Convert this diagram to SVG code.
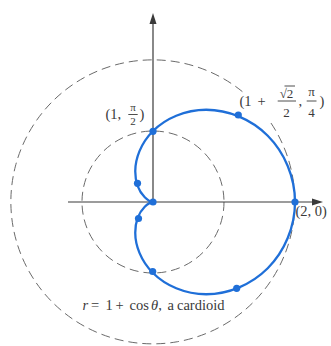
<svg xmlns="http://www.w3.org/2000/svg" width="331" height="346" viewBox="0 0 331 346">
<style>
.dash{fill:none;stroke:#6a6a6a;stroke-width:1;stroke-dasharray:9 5}
.axis{stroke:#3a3a3a;stroke-width:1.2;fill:none}
.head{fill:#3a3a3a}
.curve{fill:none;stroke:#1f6fd8;stroke-width:2.3;stroke-linejoin:round}
.dot{fill:#1f6fd8}
.t{font-family:"Liberation Serif","Times New Roman",serif;fill:#3a3a3a;font-size:14.5px}
.s{font-family:"Liberation Serif","Times New Roman",serif;fill:#3a3a3a;font-size:13px}
.s2{font-family:"Liberation Serif","Times New Roman",serif;fill:#3a3a3a;font-size:11px}
.bar{stroke:#3a3a3a;stroke-width:0.9}
</style>
<rect width="331" height="346" fill="#ffffff"/>
<g id="circles">
<path class="dash" d="M 242.4 91.65 A 142 142 0 1 0 270.0 121.6"/>
<circle class="dash" cx="153" cy="202" r="71"/>
</g>
<g id="axes">
<line class="axis" x1="68" y1="202" x2="314" y2="202"/>
<polygon class="head" points="323,202 312,198.5 312,205.5"/>
<line class="axis" x1="153" y1="202" x2="153" y2="22"/>
<polygon class="head" points="153,13 149.5,24 156.5,24"/>
</g>
<g id="cardioid">
<path class="curve" d="M 295 202 C 295 177.22 284.67 152.69 267.74 135.76 C 250.81 118.83 227.71 109.77 206.25 109.77 C 184.79 109.77 165.39 118.61 153 131 C 140.61 143.39 135.25 158.87 135.25 171.26 C 135.25 183.650 140.22 192.7 144.76 197.24 C 149.3 201.78 153 202 153 202 C 153 202 149.3 202.22 144.76 206.76 C 140.22 211.3 135.25 220.35 135.25 232.74 C 135.25 245.13 140.61 260.61 153 273 C 165.39 285.39 184.79 294.23 206.25 294.23 C 227.71 294.23 250.81 285.17 267.74 268.24 C 284.67 251.31 295 226.78 295 202 Z"/>
</g>
<g id="points">
<circle class="dot" cx="295" cy="202" r="3.6"/>
<circle class="dot" cx="238.3" cy="115" r="3.6"/>
<circle class="dot" cx="153" cy="131.3" r="3.6"/>
<circle class="dot" cx="137.5" cy="183.3" r="3.6"/>
<circle class="dot" cx="153" cy="202" r="3.6"/>
<circle class="dot" cx="138.5" cy="218.5" r="3.6"/>
<circle class="dot" cx="152.7" cy="271.5" r="3.6"/>
<circle class="dot" cx="236.7" cy="288.3" r="3.6"/>
</g>
<g id="label-pi2">
<text class="t" x="105.5" y="118.5">(1,</text>
<text class="s2" x="133" y="110.5" text-anchor="middle">π</text>
<line class="bar" x1="128.3" y1="114.5" x2="137.7" y2="114.5"/>
<text class="s2" x="133" y="124.5" text-anchor="middle">2</text>
<text class="t" x="139.5" y="118.5">)</text>
</g>
<g id="label-pi4">
<text class="t" x="239.5" y="106">(1</text>
<text class="t" x="257.5" y="106">+</text>
<text class="s" x="286.5" y="98" text-anchor="middle">√2</text>
<line class="bar" x1="284.5" y1="86" x2="295" y2="86"/>
<line class="bar" x1="277.7" y1="101" x2="296" y2="101"/>
<text class="s" x="286.5" y="116.5" text-anchor="middle">2</text>
<text class="t" x="298.5" y="106">,</text>
<text class="s" x="311.5" y="95.5" text-anchor="middle">π</text>
<line class="bar" x1="306.7" y1="101" x2="316.5" y2="101"/>
<text class="s" x="311.5" y="116.5" text-anchor="middle">4</text>
<text class="t" x="319.5" y="106">)</text>
</g>
<g id="label-20">
<text class="t" x="295.5" y="216">(2, 0)</text>
</g>
<g id="caption">
<text class="t" y="310"><tspan x="82.5" font-style="italic">r</tspan><tspan x="91">=</tspan><tspan x="105.5">1</tspan><tspan x="115.5">+</tspan><tspan x="129.5">cos</tspan><tspan x="151" font-style="italic">θ</tspan><tspan>,</tspan><tspan x="167.5">a</tspan><tspan x="177">cardioid</tspan></text>
</g>
</svg>
